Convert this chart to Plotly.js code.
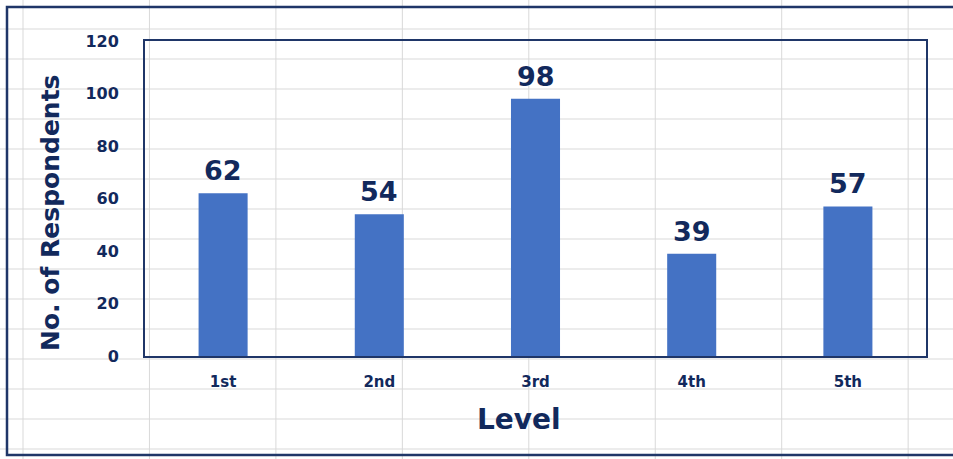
<!DOCTYPE html>
<html>
<head>
<meta charset="utf-8">
<script src="https://cdn.plot.ly/plotly-3.0.1.min.js"></script>
<style>
  html, body { margin: 0; padding: 0; background: #ffffff; }
  #chart { width: 953px; height: 459px; }
</style>
</head>
<body>
<div id="chart"></div>
<script>
// ---- data ----
const levels = ["1st", "2nd", "3rd", "4th", "5th"];
const respondents = [62, 54, 98, 39, 57];
const yTickValues = [0, 20, 40, 60, 80, 100, 120];

// ---- styling ----
const NAVY = "#12295c";
const LINE = "#1f3668";
const BAR = "#4472c4";
const FONT = "DejaVu Sans";

const W = 953, H = 459;
const M = { l: 145, r: 27, t: 41, b: 103 };
const pw = W - M.l - M.r, ph = H - M.t - M.b;
const px = x => (x - M.l) / pw;          // pixel -> paper x
const py = y => (H - M.b - y) / ph;      // pixel -> paper y

// spreadsheet cell grid in the background (decoration)
const shapes = [];
for (let x = 23; x < W; x += 126.45) {
  shapes.push({ type: "line", xref: "paper", yref: "paper", layer: "below",
    x0: px(x), x1: px(x), y0: py(-5), y1: py(H + 5),
    line: { color: "#d9d9d9", width: 1 } });
}
for (let y = 29; y < H; y += 30) {
  shapes.push({ type: "line", xref: "paper", yref: "paper", layer: "below",
    x0: px(-5), x1: px(W + 5), y0: py(y), y1: py(y),
    line: { color: "#d9d9d9", width: 1 } });
}
// outer chart border
shapes.push({ type: "rect", xref: "paper", yref: "paper", layer: "above",
  x0: px(7), x1: px(W + 20), y0: py(455), y1: py(7),
  line: { color: LINE, width: 2.5 }, fillcolor: "rgba(0,0,0,0)" });

const annotations = levels.map((lv, i) => ({
  x: lv, y: respondents[i], xref: "x", yref: "y",
  text: String(respondents[i]), showarrow: false,
  yanchor: "bottom", yshift: 5,
  font: { family: FONT, size: 27, color: NAVY, weight: 700 }
}));
annotations.push({
  xref: "paper", yref: "paper", x: px(50), y: py(213),
  text: "No. of Respondents", textangle: -90, showarrow: false,
  xanchor: "center", yanchor: "middle",
  font: { family: FONT, size: 25, color: NAVY, weight: 700 }
});
annotations.push({
  xref: "paper", yref: "paper", x: px(519), y: py(419),
  text: "Level", showarrow: false, xanchor: "center", yanchor: "middle",
  font: { family: FONT, size: 28, color: NAVY, weight: 700 }
});

const trace = {
  type: "bar", x: levels, y: respondents,
  marker: { color: BAR, line: { width: 0 } },
  hoverinfo: "x+y"
};

const layout = {
  width: W, height: H,
  margin: M,
  paper_bgcolor: "#ffffff",
  plot_bgcolor: "rgba(0,0,0,0)",
  showlegend: false,
  bargap: 0.686,
  xaxis: {
    type: "category",
    showgrid: false, zeroline: false,
    showline: true, mirror: true, linecolor: LINE, linewidth: 2,
    ticks: "", ticklabelstandoff: 11,
    tickfont: { family: FONT, size: 15, color: NAVY, weight: 700 }
  },
  yaxis: {
    range: [0, 120], tickvals: yTickValues, ticktext: yTickValues.map(String),
    showgrid: false, zeroline: false,
    showline: true, mirror: true, linecolor: LINE, linewidth: 2,
    ticks: "", ticklabelstandoff: 21,
    tickfont: { family: FONT, size: 16, color: NAVY, weight: 700 }
  },
  shapes: shapes,
  annotations: annotations
};

Plotly.newPlot("chart", [trace], layout, { displayModeBar: false, staticPlot: true });
</script>
</body>
</html>
